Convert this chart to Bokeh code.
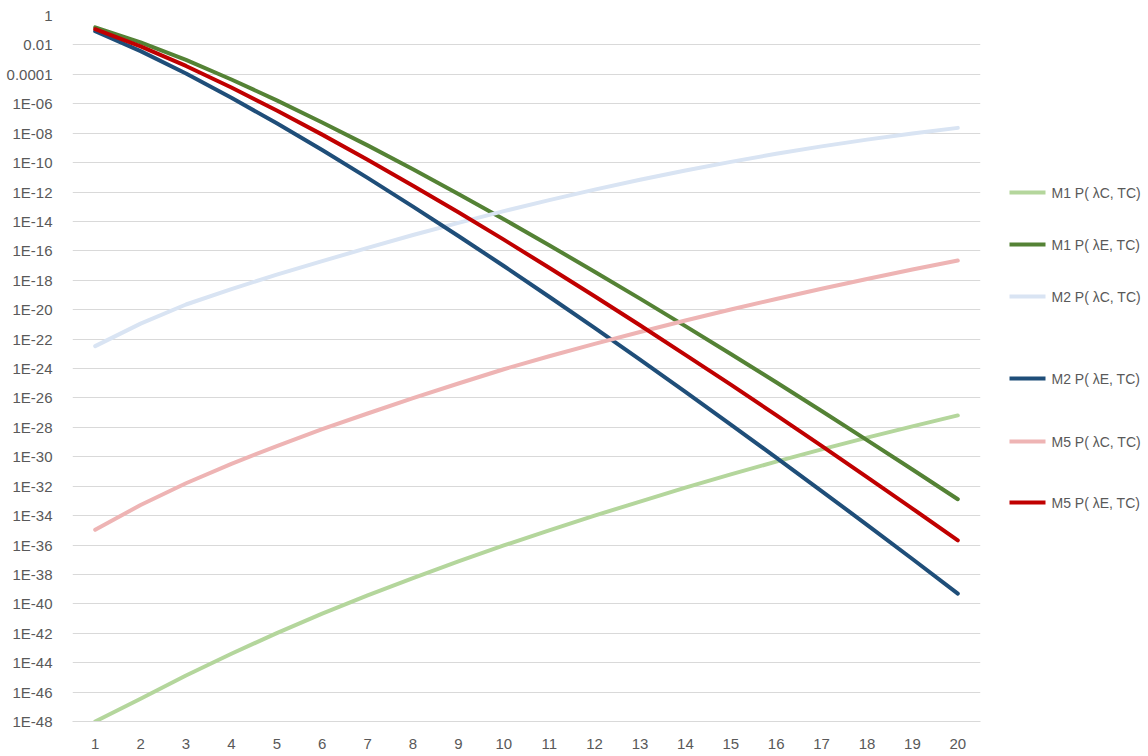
from bokeh.plotting import figure
from bokeh.layouts import row
from bokeh.models import Range1d, FixedTicker
from bokeh.core.properties import value
from bokeh.embed import file_html
from bokeh.resources import INLINE

x = list(range(1, 21))

m1_c = [1.0e-48, 3.55e-47, 1.35e-45, 4.07e-44, 1.02e-42, 2.14e-41, 3.72e-40, 5.62e-39, 7.76e-38, 9.33e-37,
        1.0e-35, 1.0e-34, 8.91e-34, 7.94e-33, 6.31e-32, 4.68e-31, 3.16e-30, 2.0e-29, 1.17e-28, 6.46e-28]
m1_e = [1.58e-1, 1.48e-2, 9.55e-4, 4.47e-5, 1.70e-6, 5.37e-8, 1.48e-9, 3.47e-11, 7.41e-13, 1.41e-14,
        2.40e-16, 3.80e-18, 5.62e-20, 7.59e-22, 9.77e-24, 1.15e-25, 1.29e-27, 1.35e-29, 1.35e-31, 1.29e-33]
m2_c = [3.31e-23, 1.12e-21, 2.24e-20, 2.51e-19, 2.40e-18, 2.0e-17, 1.58e-16, 1.20e-15, 7.94e-15, 5.01e-14,
        2.82e-13, 1.45e-12, 6.76e-12, 2.88e-11, 1.12e-10, 3.98e-10, 1.26e-9, 3.63e-9, 9.55e-9, 2.29e-8]
m2_e = [8.51e-2, 3.80e-3, 1.15e-4, 2.57e-6, 4.68e-8, 7.08e-10, 9.12e-12, 1.02e-13, 1.02e-15, 9.33e-18,
        7.59e-20, 5.75e-22, 3.98e-24, 2.57e-26, 1.55e-28, 8.71e-31, 4.68e-33, 2.34e-35, 1.12e-37, 5.01e-40]
m5_c = [1.07e-35, 5.25e-34, 1.58e-32, 3.31e-31, 5.37e-30, 7.41e-29, 8.71e-28, 9.55e-27, 9.55e-26, 8.91e-25,
        6.76e-24, 4.68e-23, 3.02e-22, 1.82e-21, 1.02e-20, 5.37e-20, 2.63e-19, 1.23e-18, 5.37e-18, 2.19e-17]
m5_e = [1.17e-1, 7.94e-3, 3.72e-4, 1.26e-5, 3.47e-7, 7.94e-9, 1.58e-10, 2.69e-12, 4.17e-14, 5.75e-16,
        7.08e-18, 8.13e-20, 8.71e-22, 8.51e-24, 7.94e-26, 6.76e-28, 5.50e-30, 4.17e-32, 3.02e-34, 2.09e-36]

series_names = ["M1 P( \u03bbC, TC)", "M1 P( \u03bbE, TC)", "M2 P( \u03bbC, TC)",
                "M2 P( \u03bbE, TC)", "M5 P( \u03bbC, TC)", "M5 P( \u03bbE, TC)"]
series_values = [m1_c, m1_e, m2_c, m2_e, m5_c, m5_e]
series_colors = ["#B4D69C", "#548235", "#D9E4F3", "#1F4E79", "#EEB4B4", "#C00000"]

y_tick_values = [10.0 ** (-k) for k in range(0, 49, 2)]
y_tick_labels = ["1", "0.01", "0.0001"] + ["1E-%02d" % k for k in range(6, 49, 2)]

# legend layout (pixel rows of the legend entries, in the legend panel)
legend_rows = [192, 244, 296, 378, 441, 502]

FONT = "Liberation Sans"
TXT = "#595959"

H = 752
TOP, BOTTOM = 15, 721
MAIN_W = 990
LEG_W = 154

p = figure(width=MAIN_W, height=H, y_axis_type="log",
           x_range=Range1d(0.5, 20.5), y_range=Range1d(1e-48, 1),
           output_backend="svg", toolbar_location=None,
           min_border_left=72, min_border_right=MAIN_W - 980,
           min_border_top=TOP, min_border_bottom=H - BOTTOM)
p.outline_line_color = None
p.background_fill_color = "white"
p.border_fill_color = "white"

p.xgrid.grid_line_color = None
p.ygrid.grid_line_color = "#D9D9D9"
p.ygrid.grid_line_width = 1

p.yaxis.ticker = FixedTicker(ticks=y_tick_values)
p.yaxis.major_label_overrides = {v: s for v, s in zip(y_tick_values, y_tick_labels)}
p.yaxis.axis_line_color = None
p.yaxis.major_tick_line_color = None
p.yaxis.minor_tick_line_color = None
p.yaxis.major_label_text_font = FONT
p.yaxis.major_label_text_font_size = "15px"
p.yaxis.major_label_text_color = TXT
p.yaxis.major_label_standoff = 14

p.xaxis.ticker = FixedTicker(ticks=x)
p.xaxis.axis_line_color = "#D9D9D9"
p.xaxis.major_tick_line_color = None
p.xaxis.minor_tick_line_color = None
p.xaxis.major_label_text_font = FONT
p.xaxis.major_label_text_font_size = "15px"
p.xaxis.major_label_text_color = TXT
p.xaxis.major_label_standoff = 11

for vals, col in zip(series_values, series_colors):
    p.line(x, vals, line_color=col, line_width=4, line_join="round", line_cap="round")

# legend panel: a bare figure whose ranges are in pixels of the page
lg = figure(width=LEG_W, height=H, x_range=Range1d(MAIN_W, MAIN_W + LEG_W),
            y_range=Range1d(BOTTOM, TOP),
            output_backend="svg", toolbar_location=None,
            min_border_left=0, min_border_right=0,
            min_border_top=TOP, min_border_bottom=H - BOTTOM)
lg.axis.visible = False
lg.grid.visible = False
lg.outline_line_color = None
lg.background_fill_color = "white"
lg.border_fill_color = "white"

lg.segment(x0=[1009] * 6, x1=[1045] * 6, y0=legend_rows, y1=legend_rows,
           line_color=series_colors, line_width=4)
lg.text(x=[1051] * 6, y=legend_rows, text=series_names,
        text_font=value(FONT), text_font_size="14px", text_color=TXT,
        text_baseline="middle", text_align="left")

layout = row(p, lg, spacing=0)
open("out.html", "w").write(file_html(layout, INLINE))
